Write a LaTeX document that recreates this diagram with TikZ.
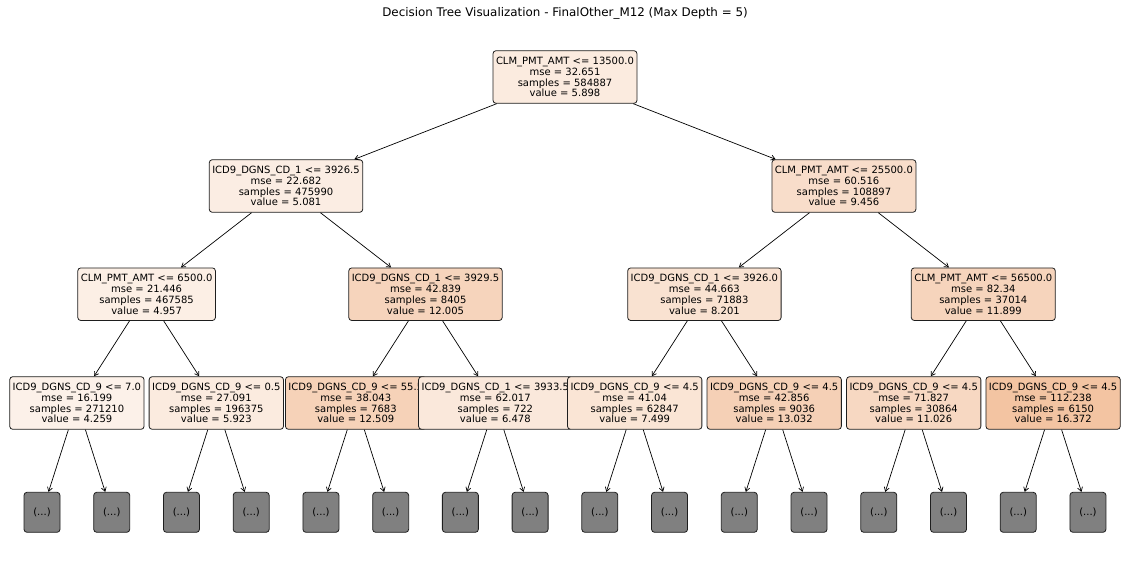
\documentclass[tikz,border=0pt]{standalone}
\usepackage{fontspec}
\setmainfont{DejaVu Sans}
\usetikzlibrary{arrows.meta}
\definecolor{treeor}{RGB}{229,129,57}
\definecolor{leafgray}{RGB}{128,128,128}
\definecolor{edgec}{RGB}{30,30,30}
\tikzset{
  tnode/.style={draw=edgec, line width=0.8pt, rounded corners=3pt, align=center,
    inner xsep=3pt, inner ysep=0pt, minimum height=52.6pt,
    font=\fontsize{10}{10.9}\selectfont},
  leafbox/.style={draw=edgec, line width=0.8pt, rounded corners=3pt, fill=leafgray,
    minimum width=36pt, minimum height=40pt, inner sep=0pt,
    font=\fontsize{10}{10.9}\selectfont},
  conn/.style={draw=black, line width=0.7pt, -{Straight Barb[length=4pt,width=5pt]}},
  titlestyle/.style={font=\fontsize{11.9}{13}\selectfont, inner sep=0pt}
}
\begin{document}
\begin{tikzpicture}[x=1pt,y=-1pt]
\useasboundingbox (0,0) rectangle (1130,574);
\node[titlestyle] (title) at (565,13.5) {Decision Tree Visualization - FinalOther\_M12 (Max Depth = 5)};

% level 0
\node[tnode, fill=treeor!16!white] (r) at (565,77) {CLM\_PMT\_AMT <= 13500.0\\mse = 32.651\\samples = 584887\\value = 5.898};
% level 1
\node[tnode, fill=treeor!14!white] (n1) at (286,186) {ICD9\_DGNS\_CD\_1 <= 3926.5\\mse = 22.682\\samples = 475990\\value = 5.081};
\node[tnode, fill=treeor!27!white] (n2) at (843.9,186) {CLM\_PMT\_AMT <= 25500.0\\mse = 60.516\\samples = 108897\\value = 9.456};
% level 2
\node[tnode, fill=treeor!13!white] (n11) at (146.6,294.2) {CLM\_PMT\_AMT <= 6500.0\\mse = 21.446\\samples = 467585\\value = 4.957};
\node[tnode, fill=treeor!34!white] (n12) at (425.5,294.2) {ICD9\_DGNS\_CD\_1 <= 3929.5\\mse = 42.839\\samples = 8405\\value = 12.005};
\node[tnode, fill=treeor!23!white] (n21) at (704.4,294.2) {ICD9\_DGNS\_CD\_1 <= 3926.0\\mse = 44.663\\samples = 71883\\value = 8.201};
\node[tnode, fill=treeor!34!white] (n22) at (983.3,294.2) {CLM\_PMT\_AMT <= 56500.0\\mse = 82.34\\samples = 37014\\value = 11.899};
% level 3
\node[tnode, fill=treeor!11!white] (m1) at (76.9,403) {ICD9\_DGNS\_CD\_9 <= 7.0\\mse = 16.199\\samples = 271210\\value = 4.259};
\node[tnode, fill=treeor!16!white] (m2) at (216.3,403) {ICD9\_DGNS\_CD\_9 <= 0.5\\mse = 27.091\\samples = 196375\\value = 5.923};
\node[tnode, fill=treeor!36!white] (m3) at (355.8,403) {ICD9\_DGNS\_CD\_9 <= 55.5\\mse = 38.043\\samples = 7683\\value = 12.509};
\node[tnode, fill=treeor!18!white] (m4) at (495.3,403) {ICD9\_DGNS\_CD\_1 <= 3933.5\\mse = 62.017\\samples = 722\\value = 6.478};
\node[tnode, fill=treeor!21!white] (m5) at (634.7,403) {ICD9\_DGNS\_CD\_9 <= 4.5\\mse = 41.04\\samples = 62847\\value = 7.499};
\node[tnode, fill=treeor!37!white] (m6) at (774.2,403) {ICD9\_DGNS\_CD\_9 <= 4.5\\mse = 42.856\\samples = 9036\\value = 13.032};
\node[tnode, fill=treeor!31!white] (m7) at (913.7,403) {ICD9\_DGNS\_CD\_9 <= 4.5\\mse = 71.827\\samples = 30864\\value = 11.026};
\node[tnode, fill=treeor!47!white] (m8) at (1053.1,403) {ICD9\_DGNS\_CD\_9 <= 4.5\\mse = 112.238\\samples = 6150\\value = 16.372};
% leaves
\foreach \i in {1,...,16} {
  \node[leafbox] (l\i) at ({42+69.73*(\i-1)},512.3) {(...)};
}
% connectors
\draw[conn] (r) -- (n1);
\draw[conn] (r) -- (n2);
\draw[conn] (n1) -- (n11);
\draw[conn] (n1) -- (n12);
\draw[conn] (n2) -- (n21);
\draw[conn] (n2) -- (n22);
\draw[conn] (n11) -- (m1);
\draw[conn] (n11) -- (m2);
\draw[conn] (n12) -- (m3);
\draw[conn] (n12) -- (m4);
\draw[conn] (n21) -- (m5);
\draw[conn] (n21) -- (m6);
\draw[conn] (n22) -- (m7);
\draw[conn] (n22) -- (m8);
\foreach \j [evaluate=\j as \a using int(2*\j-1), evaluate=\j as \b using int(2*\j)] in {1,...,8} {
  \draw[conn] (m\j) -- (l\a);
  \draw[conn] (m\j) -- (l\b);
}
\end{tikzpicture}
\end{document}
